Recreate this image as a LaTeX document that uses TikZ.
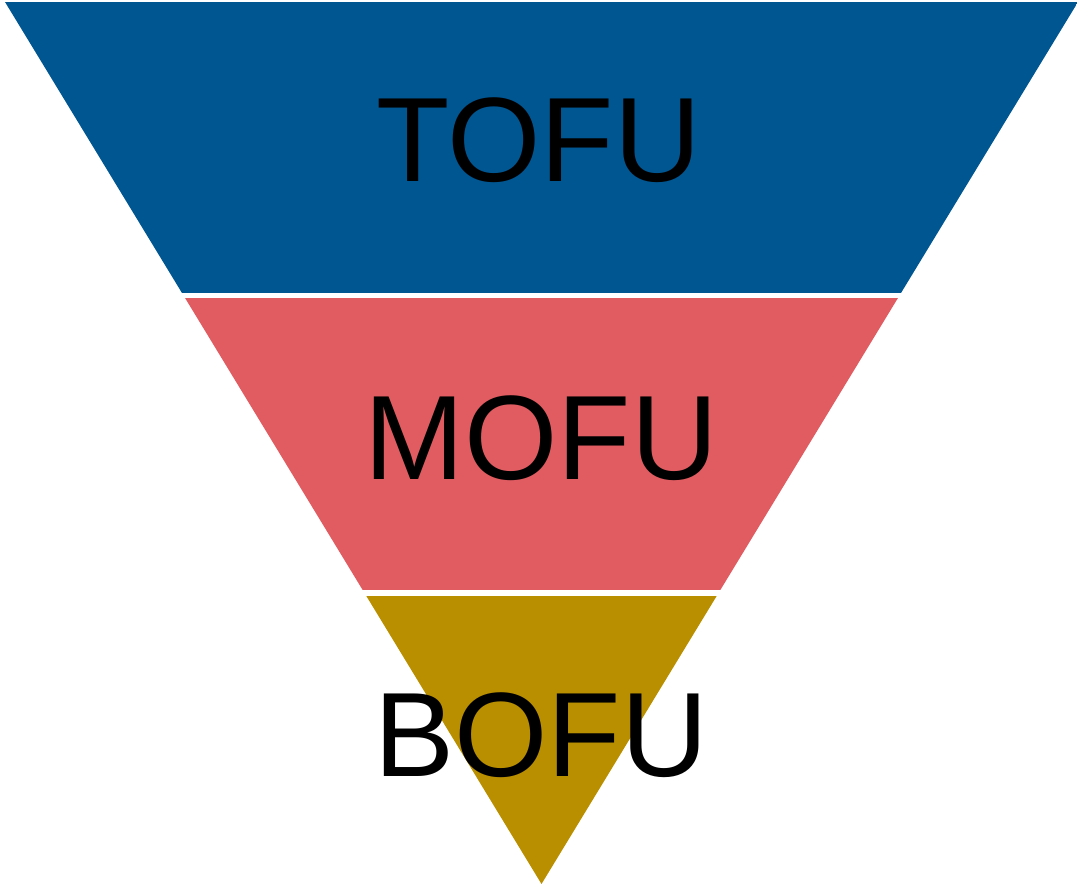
\documentclass[tikz,border=0pt]{standalone}
\usepackage{fontspec}
\setmainfont{Liberation Sans}
\usepackage{tikz}
\usetikzlibrary{positioning}
\definecolor{tofublue}{RGB}{0,86,145}
\definecolor{mofured}{RGB}{224,92,97}
\definecolor{bofugold}{RGB}{185,143,0}
\tikzstyle{band}      = [draw=none]
\tikzstyle{stagetext} = [inner sep=0pt, font=\fontsize{120}{144}\selectfont, text=black]

\begin{document}
\begin{tikzpicture}[x=1pt,y=-1pt]

\useasboundingbox (0,0) rectangle (1077,884);

\coordinate (TL)   at (5,2);
\coordinate (TR)   at (1078,2);
\coordinate (Apex) at (541.5,884);

\begin{scope}
\clip (TL) -- (TR) -- (Apex) -- cycle;
\fill[band,tofublue] (0,0)   rectangle (1077,293);
\fill[band,mofured]  (0,298) rectangle (1077,590);
\fill[band,bofugold] (0,596) rectangle (1077,884);
\end{scope}

\node[stagetext] (TOFU) at (538.5,140.5) {TOFU};
\node[stagetext] (MOFU) at (541,438) {MOFU};
\node[stagetext] (BOFU) at (541,735) {BOFU};

\end{tikzpicture}
\end{document}
